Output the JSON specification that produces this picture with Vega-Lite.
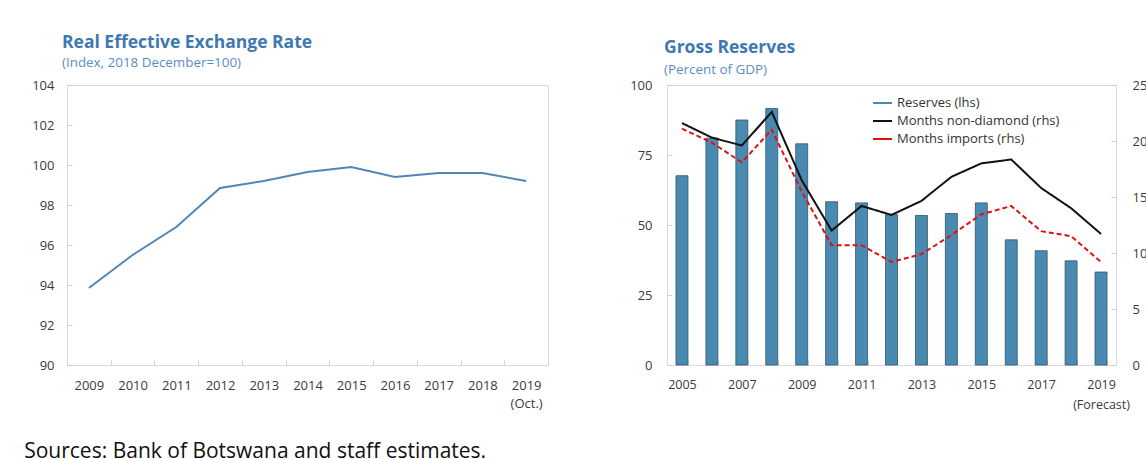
{
  "$schema": "https://vega.github.io/schema/vega-lite/v6.json",
  "padding": {"left": 24, "top": 33, "right": 5, "bottom": 2},
  "autosize": {"type": "pad"},
  "background": "white",
  "config": {
    "font": "Open Sans",
    "view": {"stroke": "#d9d9d9", "strokeWidth": 1},
    "axis": {"labelFont": "Open Sans", "labelFontSize": 12.5, "labelColor": "#3a3a3a", "domain": false, "ticks": true, "tickColor": "#d0d0d0", "grid": false, "title": null}
  },
  "title": {"text": "Sources: Bank of Botswana and staff estimates.", "orient": "bottom", "anchor": "start", "frame": "bounds", "font": "Open Sans", "fontSize": 21, "fontWeight": "normal", "color": "#111111", "dx": -7, "offset": 30},
  "datasets": {
    "reer": [
      {"year": "2009", "value": 93.85},
      {"year": "2010", "value": 95.5},
      {"year": "2011", "value": 96.9},
      {"year": "2012", "value": 98.85},
      {"year": "2013", "value": 99.2},
      {"year": "2014", "value": 99.65},
      {"year": "2015", "value": 99.9},
      {"year": "2016", "value": 99.4},
      {"year": "2017", "value": 99.6},
      {"year": "2018", "value": 99.6},
      {"year": "2019", "value": 99.2}
    ],
    "reserves": [
      {"year": "2005", "series": "Reserves (lhs)", "value": 67.6},
      {"year": "2006", "series": "Reserves (lhs)", "value": 81.0},
      {"year": "2007", "series": "Reserves (lhs)", "value": 87.5},
      {"year": "2008", "series": "Reserves (lhs)", "value": 91.6},
      {"year": "2009", "series": "Reserves (lhs)", "value": 79.0},
      {"year": "2010", "series": "Reserves (lhs)", "value": 58.3},
      {"year": "2011", "series": "Reserves (lhs)", "value": 57.9},
      {"year": "2012", "series": "Reserves (lhs)", "value": 53.7},
      {"year": "2013", "series": "Reserves (lhs)", "value": 53.4},
      {"year": "2014", "series": "Reserves (lhs)", "value": 54.1},
      {"year": "2015", "series": "Reserves (lhs)", "value": 57.9},
      {"year": "2016", "series": "Reserves (lhs)", "value": 44.7},
      {"year": "2017", "series": "Reserves (lhs)", "value": 40.8},
      {"year": "2018", "series": "Reserves (lhs)", "value": 37.2},
      {"year": "2019", "series": "Reserves (lhs)", "value": 33.2}
    ],
    "months": [
      {"year": "2005", "series": "Months non-diamond (rhs)", "value": 21.6},
      {"year": "2006", "series": "Months non-diamond (rhs)", "value": 20.3},
      {"year": "2007", "series": "Months non-diamond (rhs)", "value": 19.6},
      {"year": "2008", "series": "Months non-diamond (rhs)", "value": 22.6},
      {"year": "2009", "series": "Months non-diamond (rhs)", "value": 16.5},
      {"year": "2010", "series": "Months non-diamond (rhs)", "value": 12.0},
      {"year": "2011", "series": "Months non-diamond (rhs)", "value": 14.2},
      {"year": "2012", "series": "Months non-diamond (rhs)", "value": 13.4},
      {"year": "2013", "series": "Months non-diamond (rhs)", "value": 14.65},
      {"year": "2014", "series": "Months non-diamond (rhs)", "value": 16.8},
      {"year": "2015", "series": "Months non-diamond (rhs)", "value": 18.0},
      {"year": "2016", "series": "Months non-diamond (rhs)", "value": 18.35},
      {"year": "2017", "series": "Months non-diamond (rhs)", "value": 15.8},
      {"year": "2018", "series": "Months non-diamond (rhs)", "value": 14.0},
      {"year": "2019", "series": "Months non-diamond (rhs)", "value": 11.7},
      {"year": "2005", "series": "Months imports (rhs)", "value": 21.1},
      {"year": "2006", "series": "Months imports (rhs)", "value": 19.85},
      {"year": "2007", "series": "Months imports (rhs)", "value": 18.1},
      {"year": "2008", "series": "Months imports (rhs)", "value": 21.0},
      {"year": "2009", "series": "Months imports (rhs)", "value": 15.5},
      {"year": "2010", "series": "Months imports (rhs)", "value": 10.7},
      {"year": "2011", "series": "Months imports (rhs)", "value": 10.7},
      {"year": "2012", "series": "Months imports (rhs)", "value": 9.2},
      {"year": "2013", "series": "Months imports (rhs)", "value": 9.9},
      {"year": "2014", "series": "Months imports (rhs)", "value": 11.6},
      {"year": "2015", "series": "Months imports (rhs)", "value": 13.45},
      {"year": "2016", "series": "Months imports (rhs)", "value": 14.2},
      {"year": "2017", "series": "Months imports (rhs)", "value": 11.95},
      {"year": "2018", "series": "Months imports (rhs)", "value": 11.5},
      {"year": "2019", "series": "Months imports (rhs)", "value": 9.2}
    ]
  },
  "hconcat": [
    {
      "width": 481,
      "height": 280,
      "title": {"text": "Real Effective Exchange Rate", "subtitle": "(Index, 2018 December=100)", "anchor": "start", "frame": "group", "dx": -5, "font": "Open Sans", "fontSize": 17.5, "fontWeight": "bold", "color": "#3f78b0", "subtitleFont": "Open Sans", "subtitleFontSize": 13.4, "subtitleColor": "#5a8cc4", "subtitlePadding": 4, "offset": 10},
      "data": {"name": "reer"},
      "mark": {"type": "line", "color": "#4f86b8", "strokeWidth": 2},
      "encoding": {
        "x": {"field": "year", "type": "ordinal", "scale": {"type": "band", "paddingInner": 0, "paddingOuter": 0},
              "axis": {"labelAngle": 0, "tickBand": "extent", "tickSize": -5, "labelPadding": 19, "labelExpr": "datum.value == '2019' ? ['2019', '(Oct.)'] : datum.label", "labelLineHeight": 18, "labelFontSize": 13}},
        "y": {"field": "value", "type": "quantitative", "scale": {"domain": [90, 104], "nice": false, "zero": false},
              "axis": {"values": [90, 92, 94, 96, 98, 100, 102, 104], "tickSize": -5, "labelPadding": 18, "labelFontSize": 13}}
      }
    },
    {
      "width": 449,
      "height": 280,
      "title": {"text": "Gross Reserves", "subtitle": "(Percent of GDP)", "anchor": "start", "frame": "group", "dx": -3, "font": "Open Sans", "fontSize": 17.5, "fontWeight": "bold", "color": "#3f78b0", "subtitleFont": "Open Sans", "subtitleFontSize": 13.4, "subtitleColor": "#5a8cc4", "subtitlePadding": 6, "offset": 3},
      "layer": [
        {
          "data": {"name": "reserves"},
          "mark": {"type": "bar", "stroke": "#2b5670", "strokeWidth": 0.8},
          "encoding": {
            "x": {"field": "year", "type": "ordinal", "scale": {"type": "band", "paddingInner": 0.6, "paddingOuter": 0.3},
                  "axis": {"labelAngle": 0, "tickBand": "extent", "tickSize": -5, "labelPadding": 18, "labelExpr": "datum.value == '2019' ? ['2019', '(Forecast)'] : (toNumber(datum.value) % 2 == 1 ? datum.label : '')", "labelLineHeight": 20, "labelFontSize": 12.5}},
            "y": {"field": "value", "type": "quantitative", "scale": {"domain": [0, 100], "nice": false},
                  "axis": {"values": [0, 25, 50, 75, 100], "tickSize": -5, "labelPadding": 20, "orient": "left", "labelFontSize": 13}},
            "color": {"field": "series", "type": "nominal",
                      "scale": {"domain": ["Reserves (lhs)", "Months non-diamond (rhs)", "Months imports (rhs)"], "range": ["#4a8ab1", "#111111", "#e01010"]},
                      "legend": {"orient": "none", "legendX": 805, "legendY": 7.5, "title": null, "symbolType": "stroke", "symbolSize": 361, "symbolStrokeWidth": 2, "labelFont": "Open Sans", "labelFontSize": 13, "labelColor": "#333333", "labelOffset": 4, "labelLimit": 300, "rowPadding": -2, "padding": 0,
                                 "encode": {"symbols": {
                                   "strokeWidth": {"value": {"expr": "datum.value === 'Reserves (lhs)' ? 7 : 2"}},
                                   "strokeDash": {"value": {"expr": "datum.value === 'Months imports (rhs)' ? [5, 3] : [1, 0]"}},
                                   "opacity": {"value": 1}
                                 }}}}
          }
        },
        {
          "data": {"name": "months"},
          "mark": {"type": "line", "strokeWidth": 2},
          "encoding": {
            "x": {"field": "year", "type": "ordinal"},
            "y": {"field": "value", "type": "quantitative", "scale": {"domain": [0, 25], "nice": false},
                  "axis": {"values": [0, 5, 10, 15, 20, 25], "tickSize": -5, "labelPadding": 21, "orient": "right", "labelFontSize": 13}},
            "color": {"field": "series", "type": "nominal"},
            "strokeDash": {"field": "series", "type": "nominal", "scale": {"domain": ["Months non-diamond (rhs)", "Months imports (rhs)"], "range": [[1, 0], [5, 3]]}, "legend": null}
          }
        }
      ],
      "resolve": {"scale": {"y": "independent"}}
    }
  ],
  "spacing": 80
}
